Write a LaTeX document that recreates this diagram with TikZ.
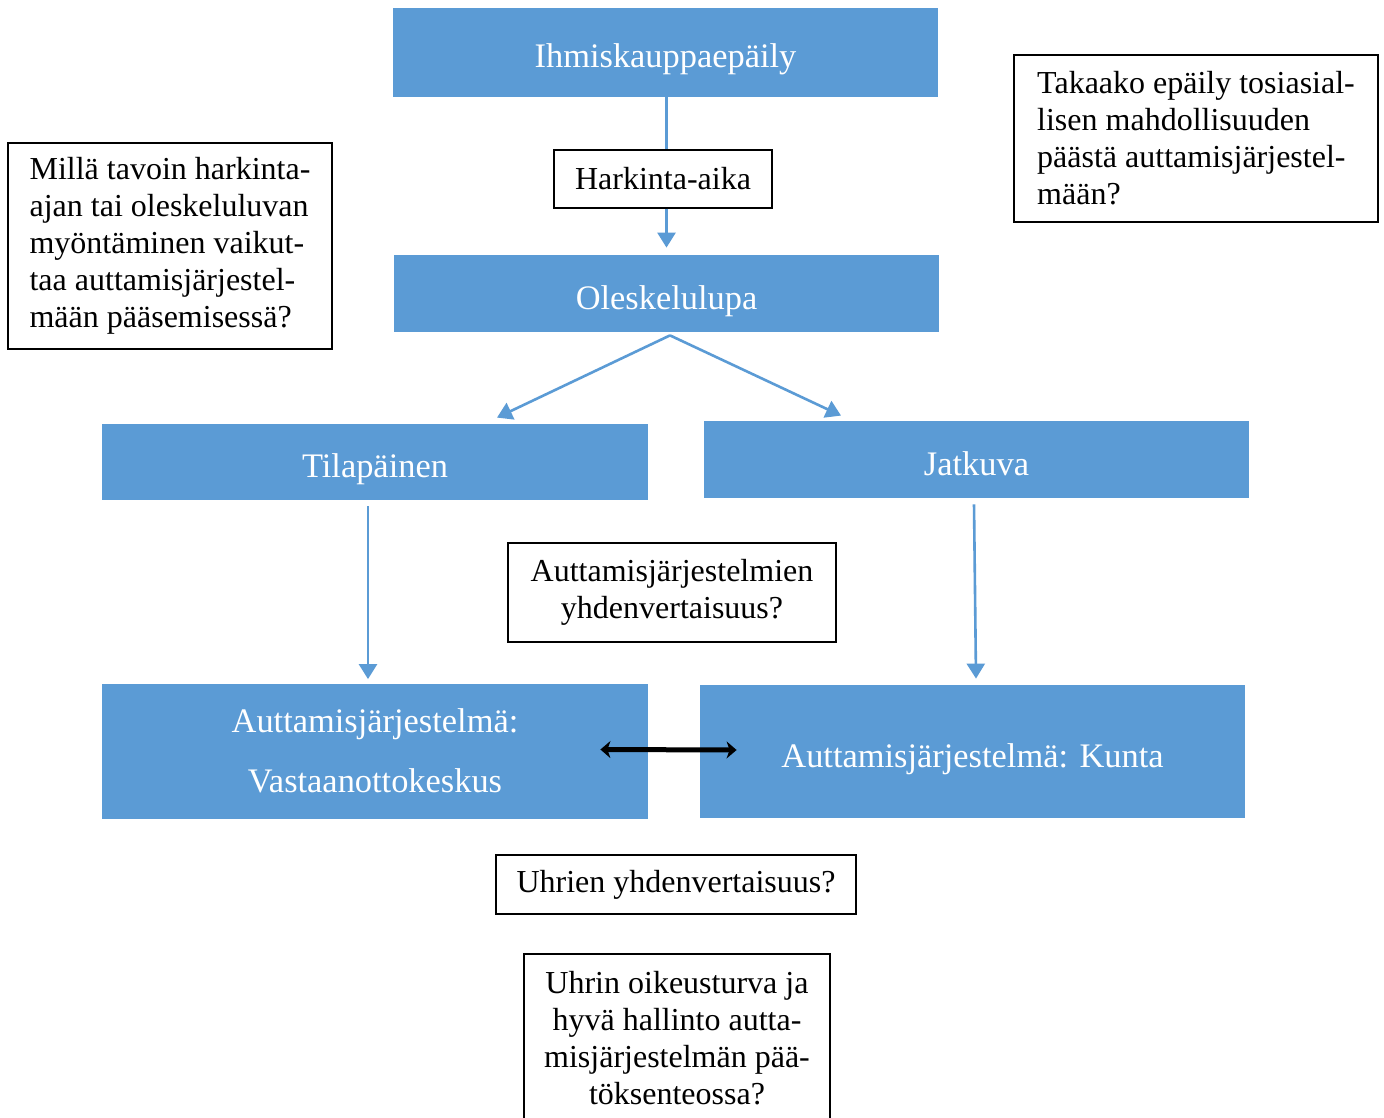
\documentclass[tikz,border=0pt]{standalone}
\usepackage{fontspec}
\setmainfont{Liberation Serif}
\usetikzlibrary{arrows.meta,calc}
\definecolor{boxblue}{RGB}{91,155,213}
\begin{document}
\begin{tikzpicture}[x=0.5pt,y=-0.5pt,
  bluebase/.style={fill=boxblue, text=white, inner sep=0pt, align=center, font=\fontsize{17.2}{30}\selectfont},
  bluebox/.style={bluebase, text height=19.5pt, text depth=4pt},
  qbox/.style={draw=black, line width=0.6pt, fill=white, inner sep=0pt, align=center, font=\fontsize{16}{18.5}\selectfont},
  flow/.style={draw=boxblue, line width=1.3pt, -{Triangle[length=7.5pt,width=9pt]}},
  link/.style={draw=boxblue, line width=1.3pt},
  bothway/.style={draw=black, line width=2.5pt, {Stealth[length=5pt,width=8.5pt,inset=1.5pt]}-{Stealth[length=5pt,width=8.5pt,inset=1.5pt]}}]
\clip (0,0) rectangle (1384,1117);
\fill[white] (0,0) rectangle (1384,1117);

% blue boxes
\node[bluebox, minimum width=272.5pt, minimum height=44.5pt] (ihm) at (665.5,52.5) {Ihmiskauppaepäily};
\node[bluebox, minimum width=272.5pt, minimum height=38.5pt] (oles) at (666.5,293.5) {Oleskelulupa};
\node[bluebox, minimum width=273pt, minimum height=38pt] (tila) at (375,462) {Tilapäinen};
\node[bluebox, minimum width=272.5pt, minimum height=38.5pt] (jatk) at (976.5,459.5) {Jatkuva};
\node[bluebase, minimum width=273pt, minimum height=67.5pt] (vast) at (375,751) {\raisebox{-1.5pt}{Auttamisjärjestelmä:}\\\raisebox{-1.5pt}{Vastaanottokeskus}};
\node[bluebox, minimum width=272.5pt, minimum height=66.5pt] (kunta) at (972.5,751.5) {Auttamisjärjestelmä: Kunta};

% question / label boxes
\node[qbox, minimum width=109pt, minimum height=29pt] (hark) at (663,179) {Harkinta-aika};
\node[qbox, minimum width=164pt, minimum height=49.5pt] (yhd) at (672,592.5) {Auttamisjärjestelmien\\yhdenvertaisuus?};
\node[qbox, minimum width=180pt, minimum height=29.5pt] (uhrien) at (676,884.5) {Uhrien yhdenvertaisuus?};
\node[qbox, minimum width=153pt, minimum height=84.5pt] (uhrin) at (677,1038.5) {Uhrin oikeusturva ja\\hyvä hallinto autta-\\misjärjestelmän pää-\\töksenteossa?};
\node[qbox, align=left, minimum width=162pt, minimum height=103pt] (milla) at (170,246) {Millä tavoin harkinta-\\ajan tai oleskeluluvan\\myöntäminen vaikut-\\taa auttamisjärjestel-\\mään pääsemisessä?};
\node[qbox, align=left, minimum width=182pt, minimum height=83.5pt] (takaa) at (1196,138.5) {Takaako epäily tosiasial-\\lisen mahdollisuuden\\päästä auttamisjärjestel-\\mään?};

% connectors
\draw[link] (oles.north |- ihm.south) -- (oles.north |- hark.north);
\draw[flow] (oles.north |- hark.south) -- ($(oles.north)+(0,-7)$);
\coordinate (split) at ($(oles.south)+(3.5,3)$);
\draw[flow] (split) -- ($(tila.north)+(122,-6)$);
\draw[flow] (split) -- ($(jatk.north)+(-135.5,-5)$);
\draw[flow] ($(tila.south)+(-7,6)$) -- ($(vast.north)+(-7,-4)$);
\draw[flow] ($(jatk.south)+(-2.5,6)$) -- ($(kunta.north)+(3.5,-6)$);
\draw[bothway] ($(vast.east)+(-48,-1.5)$) -- ($(kunta.west)+(37,-1.5)$);
\end{tikzpicture}
\end{document}
